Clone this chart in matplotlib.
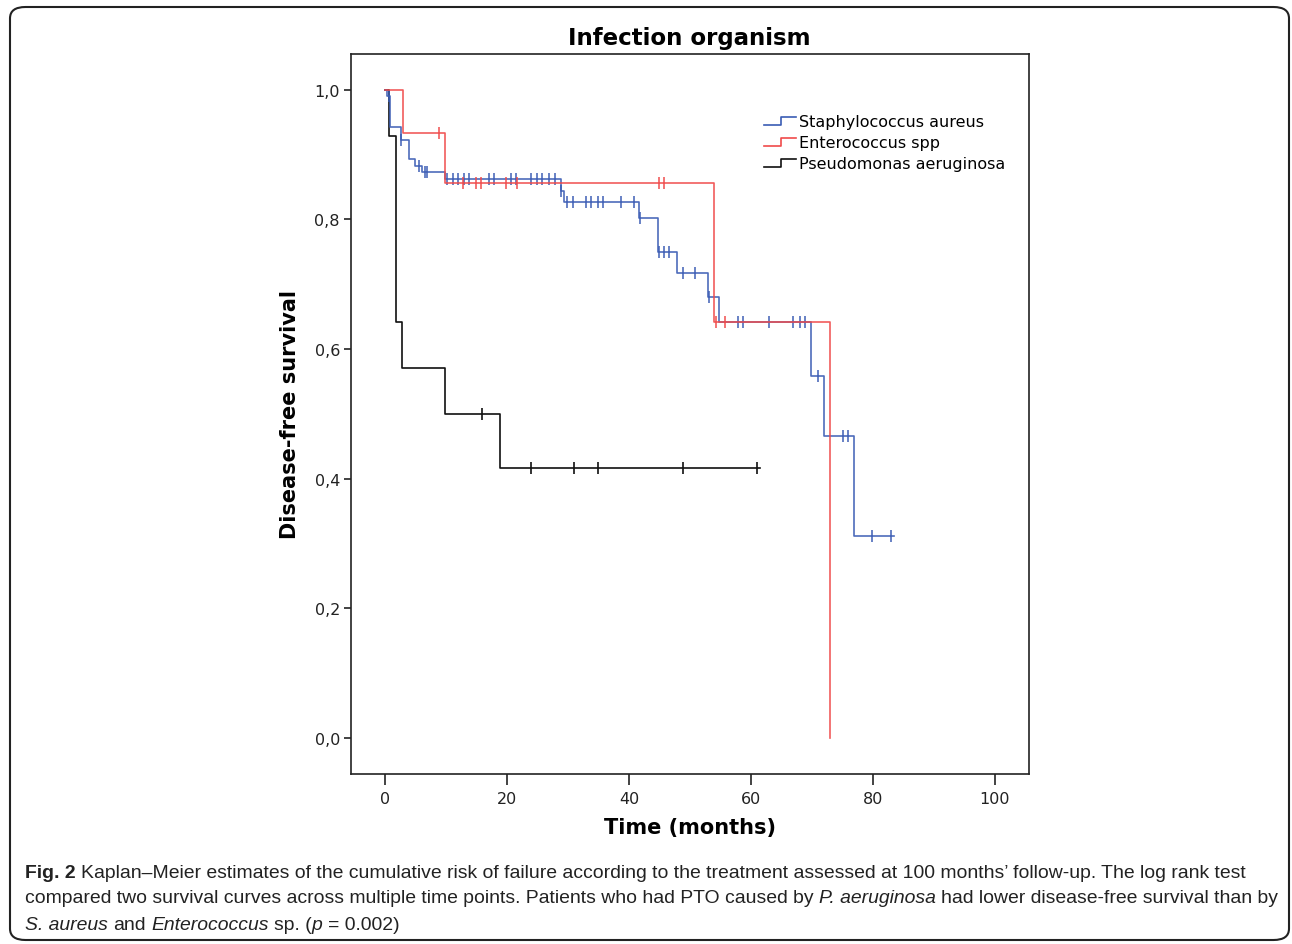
import numpy as np
import matplotlib
matplotlib.use('Agg')
import matplotlib.pyplot as plt
from matplotlib.lines import Line2D
from matplotlib.legend_handler import HandlerBase
from matplotlib.patches import FancyBboxPatch
from matplotlib.ticker import FuncFormatter

# Staphylococcus aureus: event times / survival after each step, censor times
staph_t = [0, 0.3, 0.9, 2.6, 3.9, 4.9, 6.0, 9.9, 28.8, 29.4, 41.6, 44.7, 47.9, 52.9, 54.8, 69.9, 71.9, 76.9]
staph_s = [1.0, 0.99, 0.942, 0.922, 0.893, 0.882, 0.873, 0.862, 0.844, 0.826, 0.802, 0.750, 0.717, 0.681, 0.641, 0.559, 0.466, 0.312]
staph_c = [0.7, 2.7, 5.5, 6.6, 6.9, 10.2, 11.1, 11.9, 13.0, 13.8, 17.1, 17.9, 20.6, 21.5, 23.9, 25.0, 25.8,
           26.9, 27.8, 28.9, 29.9, 30.8, 33.0, 33.8, 34.9, 35.7, 38.7, 40.9, 41.8, 45.0, 45.8, 46.6, 48.8,
           50.9, 53.2, 57.9, 58.7, 62.9, 66.9, 68.0, 68.8, 71.0, 75.1, 75.9, 79.9, 83.0]
staph_end = 83.5

# Enterococcus spp
entero_t = [0, 2.9, 9.9, 54.0, 72.9]
entero_s = [1.0, 0.933, 0.856, 0.642, 0.0]
entero_c = [8.9, 12.8, 14.9, 15.7, 19.8, 21.7, 44.9, 45.8, 54.3, 55.8]
entero_end = 72.9

# Pseudomonas aeruginosa
pseudo_t = [0, 0.7, 1.8, 2.8, 9.9, 18.9]
pseudo_s = [1.0, 0.928, 0.642, 0.571, 0.499, 0.416]
pseudo_c = [15.9, 23.9, 31.0, 34.9, 48.8, 61.0]
pseudo_end = 61.5

labels = ['Staphylococcus aureus', 'Enterococcus spp', 'Pseudomonas aeruginosa']
colors = ['#3a5cb4', '#f04a4a', '#111111']


def step_at(t, s, x):
    idx = np.searchsorted(t, x, side='right') - 1
    return np.array(s)[idx]


class StepHandler(HandlerBase):
    def create_artists(self, legend, orig_handle, xdescent, ydescent, width, height, fontsize, trans):
        x0 = -xdescent
        y0 = -ydescent
        xs = [x0, x0 + 0.55 * width, x0 + 0.55 * width, x0 + width]
        ys = [y0 + 0.1 * height, y0 + 0.1 * height, y0 + 0.8 * height, y0 + 0.8 * height]
        ln = Line2D(xs, ys, color=orig_handle.get_color(), lw=orig_handle.get_linewidth())
        ln.set_transform(trans)
        return [ln]


fig = plt.figure(figsize=(12.92, 9.45), dpi=100)
ax = fig.add_axes([351 / 1292, 1 - 775 / 945, (1028.5 - 351) / 1292, (775 - 54.7) / 945])

series = [(staph_t, staph_s, staph_c, staph_end),
          (entero_t, entero_s, entero_c, entero_end),
          (pseudo_t, pseudo_s, pseudo_c, pseudo_end)]
order = [2, 0, 1]  # draw black first, red on top
handles = [None] * 3
for k in order:
    t, s, c, end = series[k]
    xs = list(t) + [end]
    ys = list(s) + [s[-1]]
    ln, = ax.step(xs, ys, where='post', color=colors[k], lw=1.2, alpha=0.9 if k < 2 else 1.0)
    ax.plot(c, step_at(t, s, c), linestyle='None', marker='|', markersize=9,
            markeredgewidth=1.2, color=colors[k], alpha=0.9 if k < 2 else 1.0)
    handles[k] = ln

ax.set_xlim(-5.57, 105.5)
ax.set_ylim(-0.0555, 1.0555)
ax.set_xticks([0, 20, 40, 60, 80, 100])
ax.set_yticks([0.0, 0.2, 0.4, 0.6, 0.8, 1.0])
ax.yaxis.set_major_formatter(FuncFormatter(lambda v, p: ('%.1f' % v).replace('.', ',')))
ax.tick_params(axis='x', length=8, width=1.2, labelsize=11.5, pad=4, colors='#222222')
ax.tick_params(axis='y', length=5, width=1.2, labelsize=11.5, pad=3, colors='#222222')
for sp in ax.spines.values():
    sp.set_linewidth(1.2)
    sp.set_color('#222222')

ax.set_title('Infection organism', fontsize=16.5, fontweight='bold', pad=7)
ax.set_xlabel('Time (months)', fontsize=15, fontweight='bold', labelpad=8)
ax.set_ylabel('Disease-free survival', fontsize=15, fontweight='bold', labelpad=10)

ax.legend(handles, labels, handler_map={Line2D: StepHandler()}, loc='upper left',
          bbox_to_anchor=(0.6, 0.925), frameon=False, fontsize=11.5, handlelength=2.0,
          handletextpad=0.2, labelspacing=0.38, borderaxespad=0)

# rounded frame around figure + caption
box = FancyBboxPatch((10 / 1292, 4 / 945), 1279 / 1292, 933 / 945,
                     boxstyle='round,pad=0,rounding_size=0.012', transform=fig.transFigure,
                     fill=False, lw=1.5, ec='#222222')
fig.patches.append(box)

cap_font = ['Liberation Sans', 'DejaVu Sans']
renderer = fig.canvas.get_renderer()

caption = [
    [('Fig. 2', 'bold'), (' Kaplan–Meier estimates of the cumulative risk of failure according to the treatment assessed at 100 months’ follow-up. The log rank test', 'n')],
    [('compared two survival curves across multiple time points. Patients who had PTO caused by ', 'n'), ('P. aeruginosa', 'i'), (' had lower disease-free survival than by', 'n')],
    [('S. aureus', 'i'), (' and ', 'n'), ('Enterococcus', 'i'), (' sp. (', 'n'), ('p', 'i'), (' = 0.002)', 'n')],
]
line_y = [873, 899, 926]


def style_kw(st):
    kw = {}
    if st == 'bold':
        kw['fontweight'] = 'bold'
    if st == 'i':
        kw['fontstyle'] = 'italic'
    return kw


def text_w(s, size, **kw):
    t = fig.text(0, 0, s, fontsize=size, family=cap_font, **kw)
    w = t.get_window_extent(renderer).width
    t.remove()
    return w


def line_width(runs, size):
    sp = text_w('x x', size) - text_w('xx', size)
    w = 0.0
    for s, st in runs:
        core = s.strip(' ')
        w += (len(s) - len(core)) * sp + text_w(core, size, **style_kw(st))
    return w


# fit caption lines into the spans seen in the reference
size0 = 13.0
cap_size = min(size0 * 1228.0 / line_width(caption[0], size0),
               size0 * 1245.0 / line_width(caption[1], size0))
space_w = text_w('x x', cap_size) - text_w('xx', cap_size)

for runs, yy in zip(caption, line_y):
    x = 25.0
    for s, st in runs:
        lead = len(s) - len(s.lstrip(' '))
        trail = len(s) - len(s.rstrip(' '))
        core = s.strip(' ')
        x += lead * space_w
        t = fig.text(x / 1292, 1 - yy / 945, core, fontsize=cap_size, family=cap_font,
                     va='center', ha='left', color='#222222', **style_kw(st))
        x += t.get_window_extent(renderer).width + trail * space_w

fig.savefig('out.png', dpi=100)
